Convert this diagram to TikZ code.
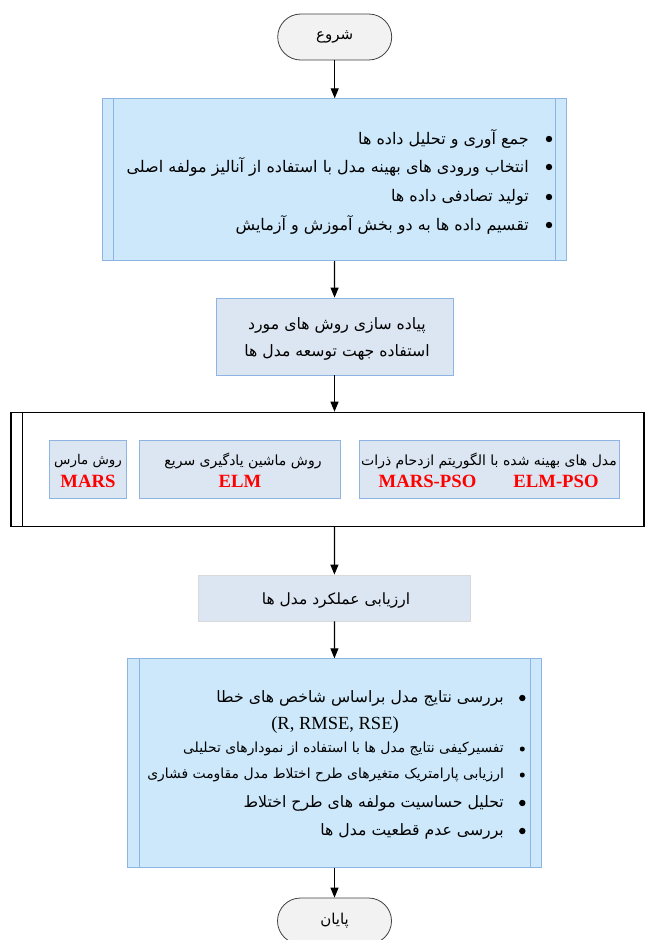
\documentclass[tikz,border=0pt]{standalone}
\usepackage{fontspec}
\setmainfont{Liberation Serif}
\newfontfamily\arabicfont[Script=Arabic]{DejaVu Sans}
\TeXXeTstate=1
\usetikzlibrary{arrows.meta}
\newcommand{\fa}[1]{{\arabicfont\beginR #1\endR}}
\definecolor{lightblue}{HTML}{CCE8FA}
\definecolor{blueedge}{HTML}{8DB4E2}
\definecolor{paleblue}{HTML}{DCE6F2}
\definecolor{termfill}{HTML}{F2F2F2}
\definecolor{redtxt}{HTML}{FF0000}
\begin{document}
\begin{tikzpicture}[x=1pt,y=-1pt,
  term/.style={draw=black!75, fill=termfill, rounded corners=23pt, minimum width=114pt, minimum height=46pt, line width=0.8pt, inner sep=0pt, font=\fontsize{15}{17}\selectfont},
  listbox/.style={draw=blueedge, fill=lightblue, line width=0.8pt, inner sep=0pt},
  palebox/.style={draw=blueedge, fill=paleblue, line width=0.8pt, inner sep=0pt},
  evalbox/.style={draw=black!15, fill=paleblue, line width=0.8pt, inner sep=0pt},
  bigbox/.style={draw=black, line width=1.2pt, inner sep=0pt},
  arr/.style={-{Triangle[width=8pt,length=10pt]}, line width=1.2pt},
  ta/.style={inner sep=0pt, font=\fontsize{16}{18}\selectfont},
  td/.style={inner sep=0pt, font=\fontsize{15.7}{18}\selectfont},
  tb/.style={inner sep=0pt, font=\fontsize{13.9}{16}\selectfont},
  tc/.style={inner sep=0pt, font=\fontsize{14}{16}\selectfont},
  red/.style={inner sep=0pt, text=redtxt, font=\fontsize{18.7}{21}\selectfont\bfseries},
  bullet/.style={fill=black},
]
\useasboundingbox (0,0) rectangle (646,940);

% start
\node[term] (start) at (334.7,37) {\fa{شروع}};

% box 1
\node[listbox, minimum width=464pt, minimum height=162pt] (b1) at (334.7,179.7) {};
\draw[blueedge, line width=0.8pt] ([xshift=11.5pt]b1.north west) -- ([xshift=11.5pt]b1.south west);
\draw[blueedge, line width=0.8pt] ([xshift=-11.5pt]b1.north east) -- ([xshift=-11.5pt]b1.south east);
\node[ta, anchor=east] (b1l1) at (529,139) {\fa{جمع آوری و تحلیل داده ها}};
\node[ta, anchor=east] (b1l2) at (529,167) {\fa{انتخاب ورودی های بهینه مدل با استفاده از آنالیز مولفه اصلی}};
\node[ta, anchor=east] (b1l3) at (529,197) {\fa{تولید تصادفی داده ها}};
\node[ta, anchor=east] (b1l4) at (529,225) {\fa{تقسیم داده ها به دو بخش آموزش و آزمایش}};
\fill[bullet] (549,139) circle (3.2pt);
\fill[bullet] (549,167) circle (3.2pt);
\fill[bullet] (549,197) circle (3.2pt);
\fill[bullet] (549,225) circle (3.2pt);

% box 2
\node[palebox, minimum width=237pt, minimum height=77pt] (b2) at (334.5,336.5) {};
\node[td] (b2l1) at (337,325) {\fa{پیاده سازی روش های مورد}};
\node[td] (b2l2) at (337,352) {\fa{استفاده جهت توسعه مدل ها}};

% big box
\node[bigbox, minimum width=633pt, minimum height=114pt] (big) at (327.5,469.3) {};
\draw[line width=1.2pt] ([xshift=12pt]big.north west) -- ([xshift=12pt]big.south west);

\node[palebox, minimum width=76.7pt, minimum height=57.6pt] (mars) at (87.6,469.5) {};
\node[tc, font=\fontsize{13.4}{15}\selectfont] (marsfa) at (88,461) {\fa{روش مارس}};
\node[red] (marsen) at (88,481.5) {MARS};

\node[palebox, minimum width=201pt, minimum height=57.6pt] (elm) at (239.5,469.5) {};
\node[tc] (elmfa) at (243,461) {\fa{روش ماشین یادگیری سریع}};
\node[red] (elmen) at (240,481.5) {ELM};

\node[palebox, minimum width=260.3pt, minimum height=57.6pt] (pso) at (489.1,469.5) {};
\node[tc] (psofa) at (489,460.5) {\fa{مدل های بهینه شده با الگوریتم ازدحام ذرات}};
\node[red] (psoa) at (427.5,481.5) {MARS-PSO};
\node[red] (psob) at (556,481.5) {ELM-PSO};

% evaluation
\node[evalbox, minimum width=272.7pt, minimum height=46pt] (ev) at (334.4,598) {};
\node[td, font=\fontsize{15.5}{18}\selectfont] (evt) at (336,600) {\fa{ارزیابی عملکرد مدل ها}};

% box 4
\node[listbox, minimum width=414.4pt, minimum height=208.6pt] (b4) at (334.5,763) {};
\draw[blueedge, line width=0.8pt] ([xshift=12pt]b4.north west) -- ([xshift=12pt]b4.south west);
\draw[blueedge, line width=0.8pt] ([xshift=-12pt]b4.north east) -- ([xshift=-12pt]b4.south east);
\node[td, anchor=east] (b4l1) at (504,698) {\fa{بررسی نتایج مدل براساس شاخص های خطا}};
\node[inner sep=0pt, font=\fontsize{18.5}{21}\selectfont] (b4l1b) at (335,725) {(R, RMSE, RSE)};
\node[tb, anchor=east] (b4l2) at (504,749) {\fa{تفسیرکیفی نتایج مدل ها با استفاده از نمودارهای تحلیلی}};
\node[tb, anchor=east] (b4l3) at (504,775) {\fa{ارزیابی پارامتریک متغیرهای طرح اختلاط مدل مقاومت فشاری}};
\node[td, anchor=east] (b4l4) at (504,803) {\fa{تحلیل حساسیت مولفه های طرح اختلاط}};
\node[td, anchor=east] (b4l5) at (504,831) {\fa{بررسی عدم قطعیت مدل ها}};
\fill[bullet] (522.3,698) circle (3.2pt);
\fill[bullet] (522.3,749) circle (2.5pt);
\fill[bullet] (522.3,775) circle (2.5pt);
\fill[bullet] (522.3,803) circle (3.2pt);
\fill[bullet] (522.3,831) circle (3.2pt);

% end
\node[term] (end) at (334.5,921) {\fa{پایان}};

% arrows
\draw[arr] (start) -- (b1);
\draw[arr] (b1) -- (b2);
\draw[arr] (b2.south) -- (b2.south |- big.north);
\draw[arr] (b2.south |- big.south) -- (ev.north);
\draw[arr] (ev) -- (b4);
\draw[arr] (b4) -- (end);
\end{tikzpicture}
\end{document}
